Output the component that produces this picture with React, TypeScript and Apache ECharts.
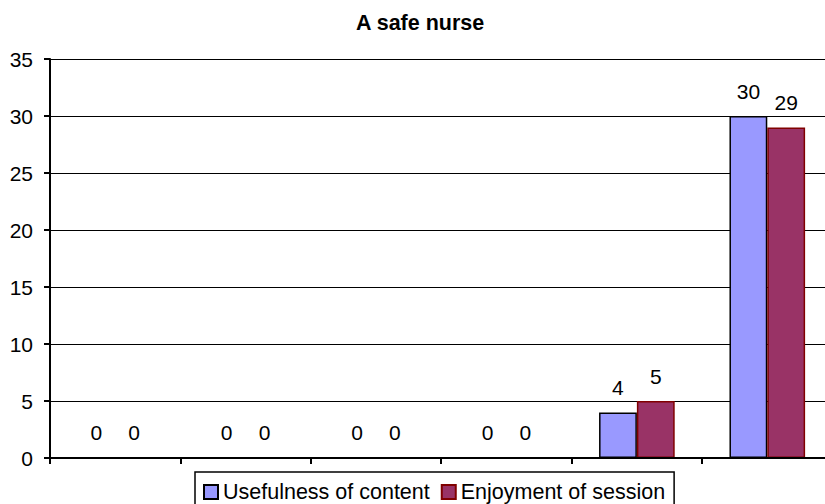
import React, { useEffect, useRef } from "react";
import * as echarts from "echarts";

const categories = ["1", "2", "3", "4", "5", "6"];
const usefulness = [0, 0, 0, 0, 4, 30];
const enjoyment = [0, 0, 0, 0, 5, 29];
const seriesNames = ["Usefulness of content", "Enjoyment of session"];
const titleText = "A safe nurse";

const FONT = "'Liberation Sans', Arial, sans-serif";

export default function App() {
  const ref = useRef<HTMLDivElement>(null);
  useEffect(() => {
    if (!ref.current) return;
    const chart = echarts.init(ref.current, null, { renderer: "svg" });
    const label = {
      show: true,
      position: "top",
      distance: 14,
      color: "#000",
      fontSize: 21,
      fontFamily: FONT,
    };
    chart.setOption({
      animation: false,
      backgroundColor: "#fff",
      title: {
        text: titleText,
        left: 356,
        top: 12,
        padding: 0,
        textStyle: { fontSize: 21.5, fontWeight: "bold", color: "#000", fontFamily: FONT },
      },
      legend: {
        left: 195,
        top: 472,
        padding: [9, 9, 10, 8],
        itemWidth: 14,
        itemHeight: 14,
        itemGap: 11,
        icon: "rect",
        borderColor: "#000",
        borderWidth: 1.5,
        textStyle: { fontSize: 21.5, color: "#000", fontFamily: FONT },
        data: seriesNames,
      },
      grid: {
        left: 50,
        top: 59,
        width: 782.5,
        height: 399,
        containLabel: false,
        outerBoundsMode: "none",
      },
      xAxis: {
        type: "category",
        data: categories,
        z: 5,
        axisLine: { lineStyle: { color: "#000", width: 2 } },
        axisTick: { show: true, length: 6, lineStyle: { color: "#000", width: 2 } },
        axisLabel: { show: false },
        splitLine: { show: false },
      },
      yAxis: {
        type: "value",
        min: 0,
        max: 35,
        interval: 5,
        axisLine: { show: true, lineStyle: { color: "#000", width: 2 } },
        axisTick: { show: true, length: 6, lineStyle: { color: "#000", width: 2 } },
        axisLabel: { margin: 17, fontSize: 21, color: "#000", fontFamily: FONT },
        splitLine: { show: true, lineStyle: { color: "#000", width: 1 } },
      },
      series: [
        {
          name: seriesNames[0],
          type: "bar",
          data: usefulness,
          barGap: "0%",
          barCategoryGap: "42%",
          itemStyle: { color: "#9999FF", borderColor: "#000", borderWidth: 1.5 },
          label,
        },
        {
          name: seriesNames[1],
          type: "bar",
          data: enjoyment,
          barGap: "0%",
          barCategoryGap: "42%",
          itemStyle: { color: "#993366", borderColor: "#800000", borderWidth: 1.5 },
          label,
        },
      ],
    });
    return () => chart.dispose();
  }, []);
  return <div ref={ref} style={{ width: 825, height: 504, position: "absolute", left: 0, top: 0 }} />;
}
